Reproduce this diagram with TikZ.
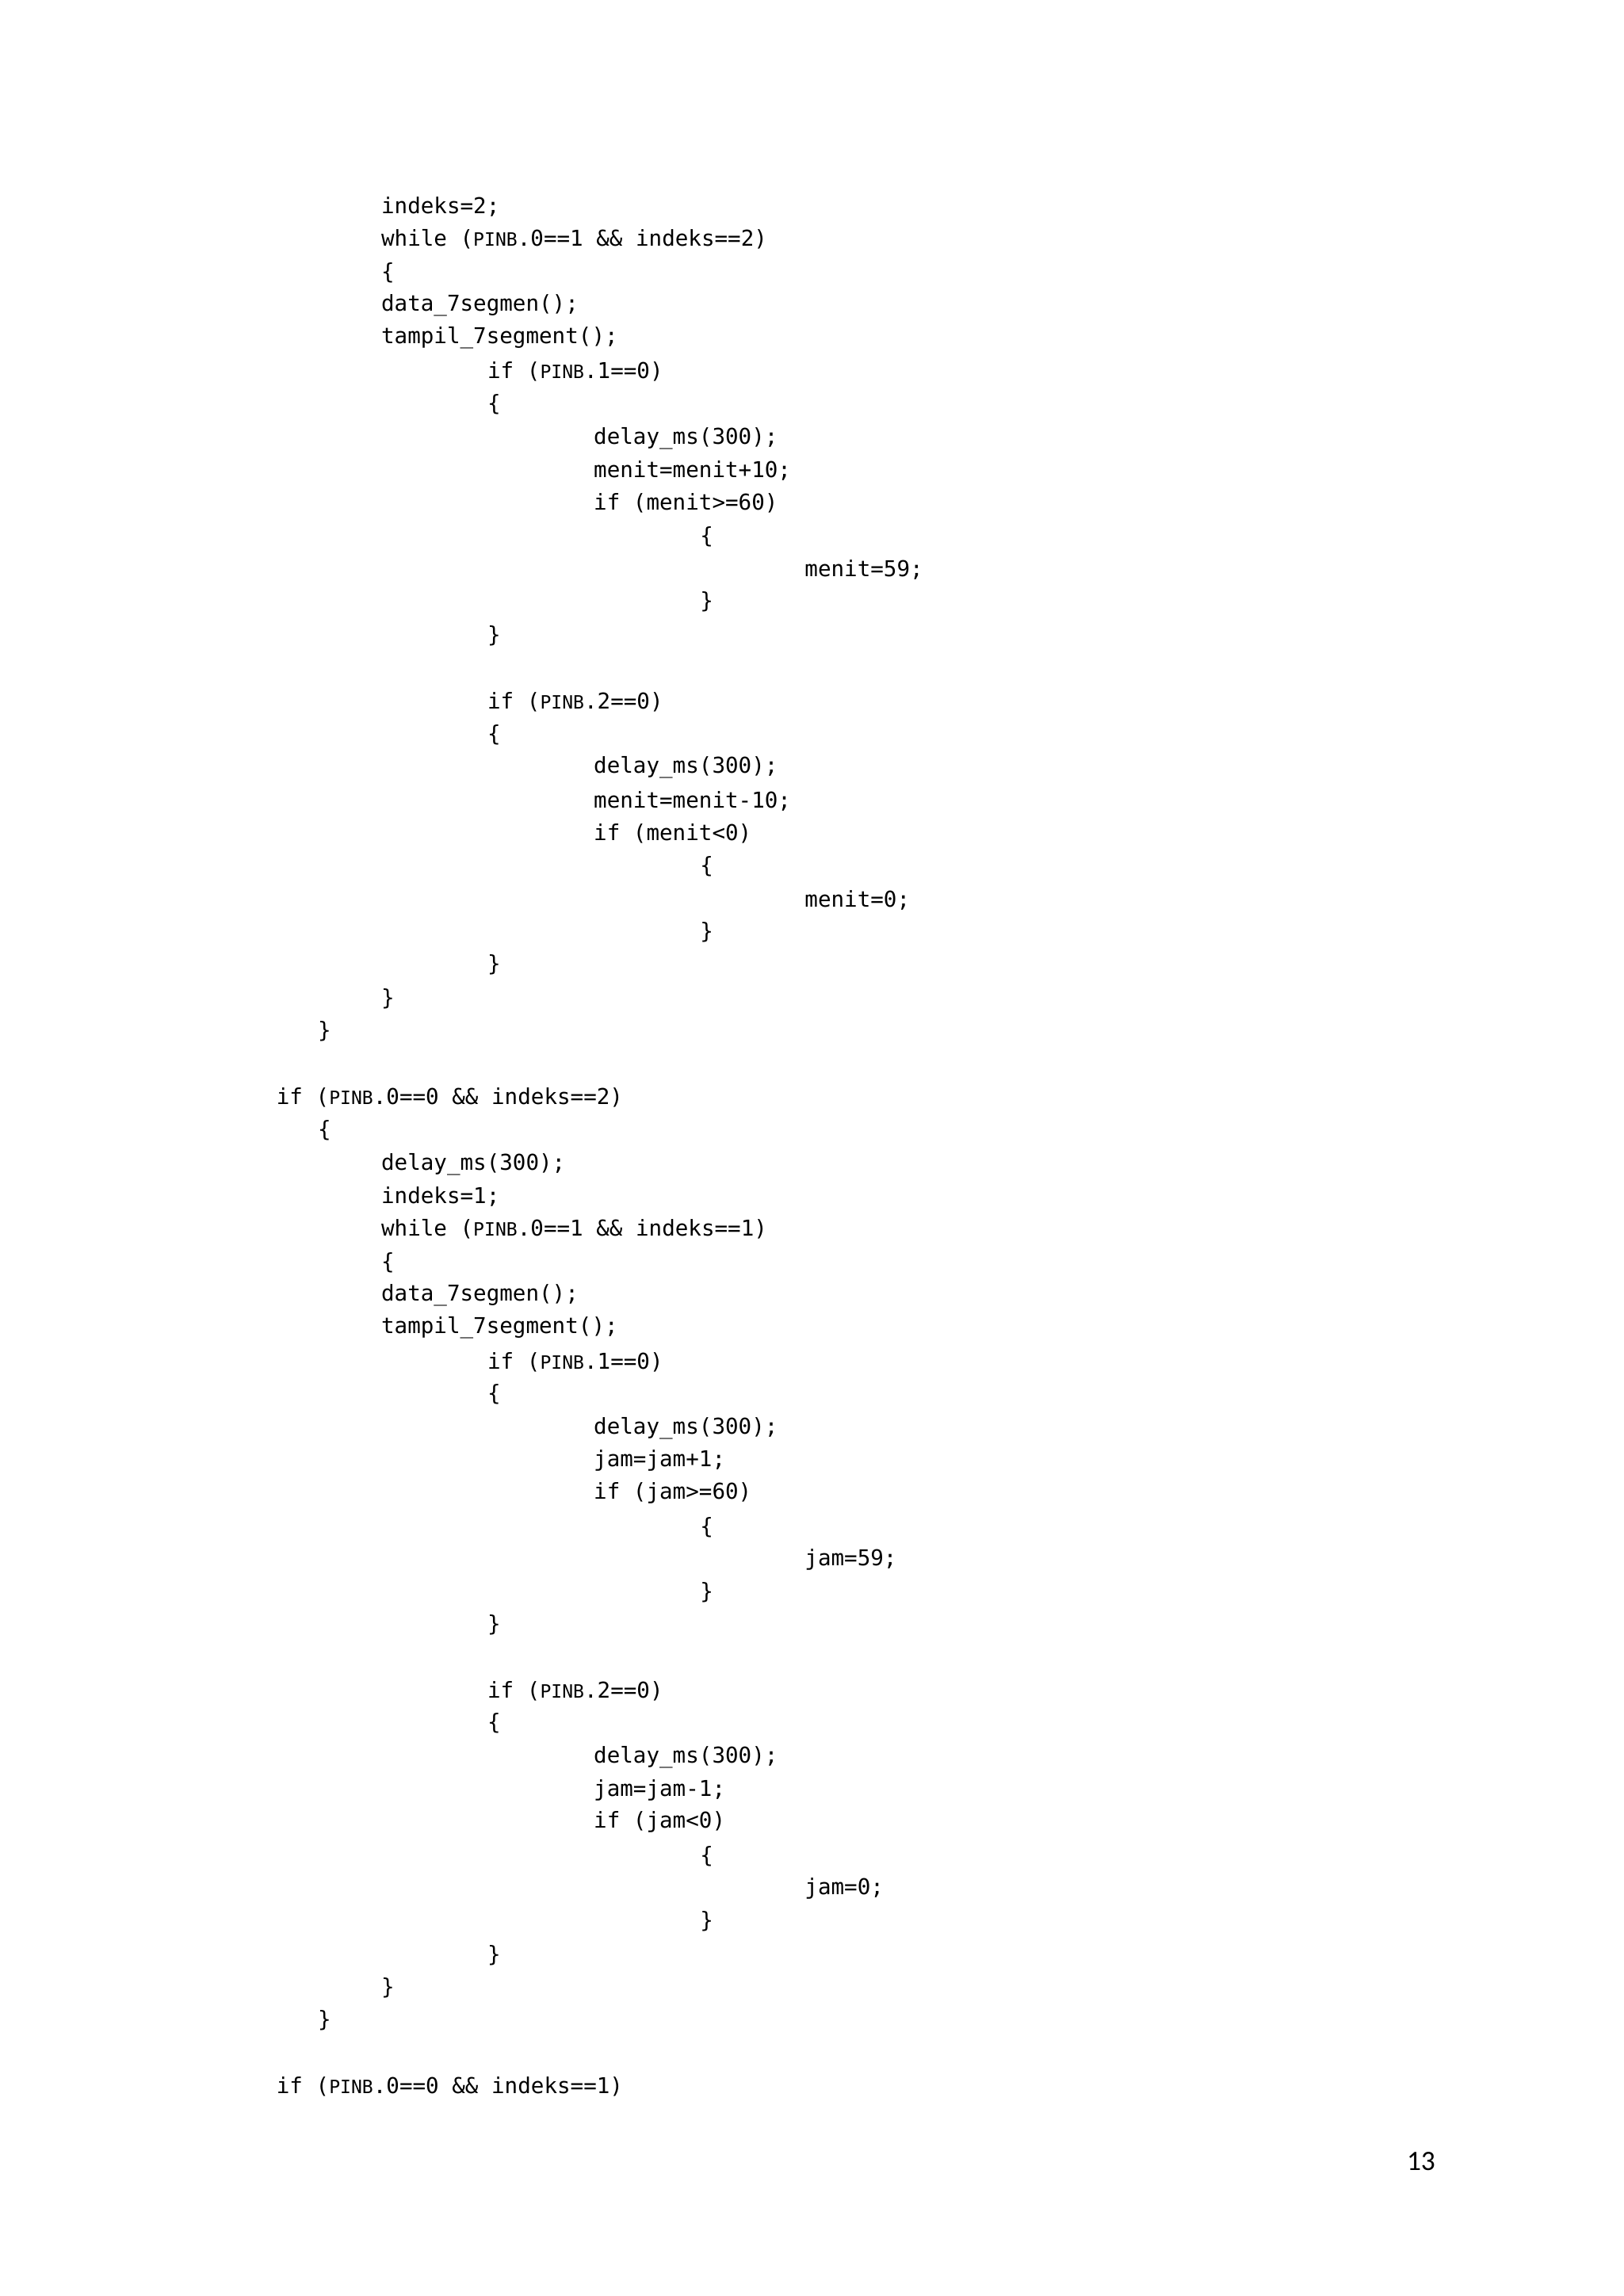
\documentclass[tikz,border=0pt]{standalone}
\usepackage{fontspec}
\setmonofont{DejaVu Sans Mono}
\newfontfamily\pgnum{Carlito}
\newcommand{\pb}{{\fontsize{6.2pt}{7pt}\selectfont PINB}}
\begin{document}
\begin{tikzpicture}[x=0.5pt,y=-0.5pt,
  code/.style={anchor=west,inner sep=0pt,font=\ttfamily\fontsize{7.4pt}{9pt}\selectfont}]
\useasboundingbox[fill=white] (0,0) rectangle (1100,1556);
\node[code] (a1) at (258,140) {indeks=2;};
\node[code] (a2) at (258,162) {while (\pb.0==1 \&\& indeks==2)};
\node[code] (a3) at (258,185) {\{};
\node[code] (a4) at (258,207) {data\_7segmen();};
\node[code] (a5) at (258,229) {tampil\_7segment();};
\node[code] (a6) at (330,252) {if (\pb.1==0)};
\node[code] (a7) at (330,274) {\{};
\node[code] (a8) at (402,297) {delay\_ms(300);};
\node[code] (a9) at (402,319) {menit=menit+10;};
\node[code] (a10) at (402,341) {if (menit>=60)};
\node[code] (a11) at (474,364) {\{};
\node[code] (a12) at (545,386) {menit=59;};
\node[code] (a13) at (474,408) {\}};
\node[code] (a14) at (330,431) {\}};
\node[code] (a15) at (330,476) {if (\pb.2==0)};
\node[code] (a16) at (330,498) {\{};
\node[code] (a17) at (402,520) {delay\_ms(300);};
\node[code] (a18) at (402,543) {menit=menit-10;};
\node[code] (a19) at (402,565) {if (menit<0)};
\node[code] (a20) at (474,587) {\{};
\node[code] (a21) at (545,610) {menit=0;};
\node[code] (a22) at (474,632) {\}};
\node[code] (a23) at (330,654) {\}};
\node[code] (a24) at (258,677) {\}};
\node[code] (a25) at (215,699) {\}};
\node[code] (b1) at (187,744) {if (\pb.0==0 \&\& indeks==2)};
\node[code] (b2) at (215,766) {\{};
\node[code] (b3) at (258,789) {delay\_ms(300);};
\node[code] (b4) at (258,811) {indeks=1;};
\node[code] (b5) at (258,833) {while (\pb.0==1 \&\& indeks==1)};
\node[code] (b6) at (258,856) {\{};
\node[code] (b7) at (258,878) {data\_7segmen();};
\node[code] (b8) at (258,900) {tampil\_7segment();};
\node[code] (b9) at (330,923) {if (\pb.1==0)};
\node[code] (b10) at (330,945) {\{};
\node[code] (b11) at (402,968) {delay\_ms(300);};
\node[code] (b12) at (402,990) {jam=jam+1;};
\node[code] (b13) at (402,1012) {if (jam>=60)};
\node[code] (b14) at (474,1035) {\{};
\node[code] (b15) at (545,1057) {jam=59;};
\node[code] (b16) at (474,1079) {\}};
\node[code] (b17) at (330,1101) {\}};
\node[code] (b18) at (330,1146) {if (\pb.2==0)};
\node[code] (b19) at (330,1168) {\{};
\node[code] (b20) at (402,1191) {delay\_ms(300);};
\node[code] (b21) at (402,1213) {jam=jam-1;};
\node[code] (b22) at (402,1235) {if (jam<0)};
\node[code] (b23) at (474,1258) {\{};
\node[code] (b24) at (545,1280) {jam=0;};
\node[code] (b25) at (474,1302) {\}};
\node[code] (b26) at (330,1325) {\}};
\node[code] (b27) at (258,1347) {\}};
\node[code] (b28) at (215,1369) {\}};
\node[code] (c1) at (187,1414) {if (\pb.0==0 \&\& indeks==1)};
\node[inner sep=0pt,font=\pgnum\fontsize{9.5pt}{11pt}\selectfont] (pg) at (963,1465) {13};
\end{tikzpicture}
\end{document}
